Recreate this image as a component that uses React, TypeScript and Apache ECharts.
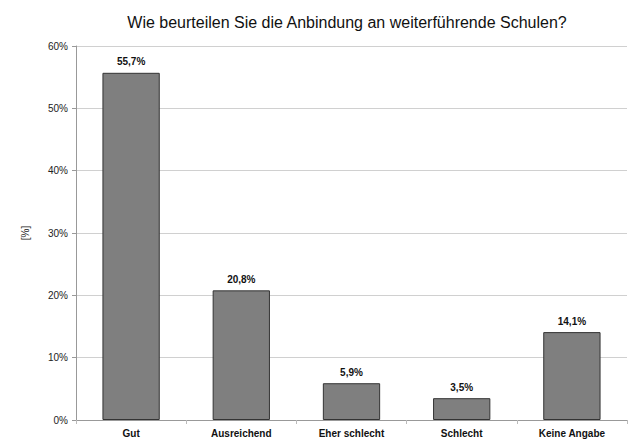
import React, { useEffect, useRef } from "react";
import * as echarts from "echarts";

const title = "Wie beurteilen Sie die Anbindung an weiterführende Schulen?";
const categories = ["Gut", "Ausreichend", "Eher schlecht", "Schlecht", "Keine Angabe"];
const values = [55.7, 20.8, 5.9, 3.5, 14.1];
const yTicks = [0, 10, 20, 30, 40, 50, 60];

const FONT = "Liberation Sans, Arial, sans-serif";

export default function App() {
  const ref = useRef<HTMLDivElement>(null);
  useEffect(() => {
    const chart = echarts.init(ref.current!, null, { renderer: "svg" });
    chart.setOption({
      animation: false,
      backgroundColor: "#ffffff",
      title: {
        text: title,
        left: 342,
        textAlign: "center",
        top: 9,
        textStyle: { fontFamily: FONT, fontSize: 16, fontWeight: "normal", color: "#111" },
      },
      grid: { left: 76, right: 13, top: 46, bottom: 23, containLabel: false },
      xAxis: {
        type: "category",
        data: categories,
        axisLine: { lineStyle: { color: "#999" } },
        axisTick: { show: true, alignWithLabel: false, length: 4, lineStyle: { color: "#bbb" } },
        axisLabel: { fontFamily: FONT, fontSize: 10, fontWeight: "bold", color: "#111", margin: 8 },
      },
      yAxis: {
        type: "value",
        min: yTicks[0],
        max: yTicks[yTicks.length - 1],
        interval: 10,
        name: "[%]",
        nameLocation: "middle",
        nameGap: 46,
        nameRotate: 90,
        nameTextStyle: { fontFamily: FONT, fontSize: 10, color: "#222" },
        axisLine: { show: true, lineStyle: { color: "#999" } },
        axisTick: { show: true, length: 4, lineStyle: { color: "#999" } },
        splitLine: { lineStyle: { color: "#d0d0d0" } },
        axisLabel: { formatter: "{value}%", fontFamily: FONT, fontSize: 10, color: "#222", margin: 8 },
      },
      series: [
        {
          type: "bar",
          data: values,
          barWidth: "52%",
          itemStyle: { color: "#7f7f7f", borderColor: "#333", borderWidth: 1 },
          label: {
            show: true,
            position: "top",
            distance: 6,
            formatter: (p: any) => p.value.toFixed(1).replace(".", ",") + "%",
            fontFamily: FONT,
            fontSize: 10,
            fontWeight: "bold",
            color: "#111",
          },
        },
      ],
    });
    return () => chart.dispose();
  }, []);
  return <div ref={ref} style={{ position: "fixed", left: 0, top: 0, width: 640, height: 443 }} />;
}
